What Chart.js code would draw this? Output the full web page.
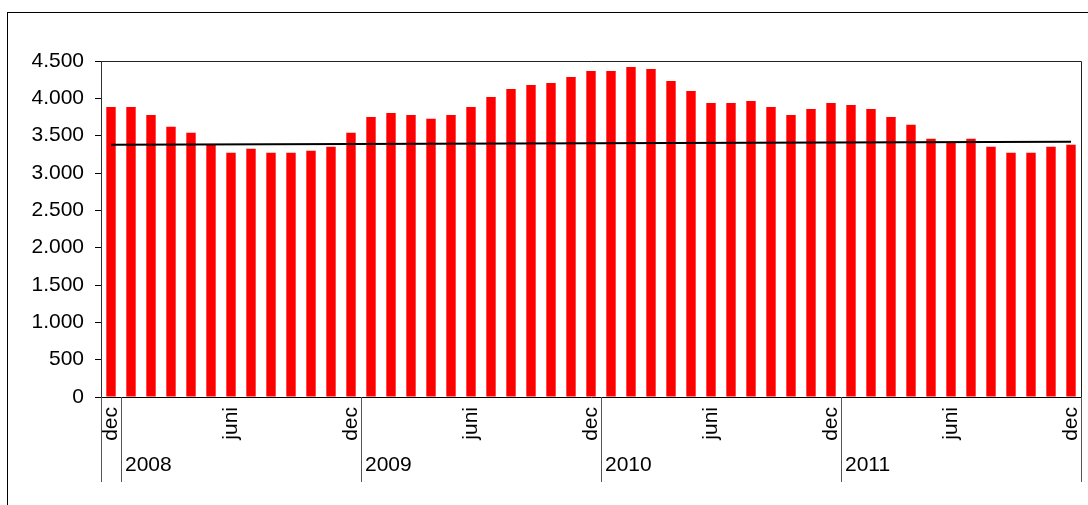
<!DOCTYPE html>
<html>
<head>
<meta charset="utf-8">
<script src="https://cdn.jsdelivr.net/npm/chart.js@4"></script>
<style>
  html, body { margin: 0; padding: 0; background: #fff; }
  #wrap { width: 1088px; height: 505px; }
</style>
</head>
<body>
<div id="wrap"><canvas id="barChart" width="1088" height="505"></canvas></div>
<script>
// months dec 2007 .. dec 2011
const months = [
  'dec',
  'jan', 'feb', 'mrt', 'apr', 'mei', 'juni', 'juli', 'aug', 'sep', 'okt', 'nov', 'dec',
  'jan', 'feb', 'mrt', 'apr', 'mei', 'juni', 'juli', 'aug', 'sep', 'okt', 'nov', 'dec',
  'jan', 'feb', 'mrt', 'apr', 'mei', 'juni', 'juli', 'aug', 'sep', 'okt', 'nov', 'dec',
  'jan', 'feb', 'mrt', 'apr', 'mei', 'juni', 'juli', 'aug', 'sep', 'okt', 'nov', 'dec'
];
const shownMonths = ['dec', 'juni'];
const years = ['2008', '2009', '2010', '2011'];
const yearStart = [1, 13, 25, 37];

const values = [
  3885,
  3885, 3778, 3618, 3538, 3387, 3271, 3324, 3271, 3271, 3298, 3351, 3538,
  3751, 3805, 3778, 3725, 3778, 3885, 4019, 4125, 4179, 4205, 4285, 4366,
  4366, 4419, 4392, 4232, 4099, 3939, 3939, 3965, 3885, 3778, 3858, 3939,
  3912, 3858, 3751, 3645, 3458, 3405, 3458, 3351, 3271, 3271, 3351, 3378
];
// trend line end points (first and last month)
const trendEnds = [3380, 3418];
const trend = months.map((m, i) => i === 0 ? trendEnds[0] : (i === months.length - 1 ? trendEnds[1] : null));

const font = { family: "'Liberation Sans', Arial, sans-serif", size: 21 };

const fmt = v => String(v).replace(/\B(?=(\d{3})+(?!\d))/g, '.');

const framePlugin = {
  id: 'frame',
  afterDraw(chart) {
    const ctx = chart.ctx;
    const a = chart.chartArea;
    const x = chart.scales.x;
    ctx.save();
    // outer frame
    ctx.strokeStyle = '#000';
    ctx.lineWidth = 1;
    ctx.strokeRect(7.5, 12.5, 1100, 520);
    // plot box
    ctx.strokeStyle = '#222';
    ctx.beginPath();
    ctx.moveTo(a.left, a.top + 0.5);
    ctx.lineTo(a.right + 0.5, a.top + 0.5);
    ctx.lineTo(a.right + 0.5, a.bottom);
    ctx.stroke();
    // year separators and labels
    const half = (x.getPixelForValue(1) - x.getPixelForValue(0)) / 2;
    const bounds = [0].concat(yearStart, [months.length]);
    ctx.strokeStyle = '#555';
    bounds.forEach(i => {
      const px = Math.round(x.getPixelForValue(i) - half) + 0.5;
      ctx.beginPath();
      ctx.moveTo(px, a.bottom);
      ctx.lineTo(px, a.bottom + 85);
      ctx.stroke();
    });
    ctx.fillStyle = '#000';
    ctx.font = font.size + 'px ' + font.family;
    ctx.textBaseline = 'middle';
    ctx.textAlign = 'left';
    years.forEach((y, k) => {
      const px = x.getPixelForValue(yearStart[k]) - half;
      ctx.fillText(y, px + 4, a.bottom + 68);
    });
    ctx.restore();
  }
};

new Chart(document.getElementById('barChart'), {
  type: 'bar',
  data: {
    labels: months,
    datasets: [
      {
        type: 'line',
        data: trend,
        spanGaps: true,
        borderColor: '#000',
        borderWidth: 2,
        pointRadius: 0,
        order: 0
      },
      {
        data: values,
        backgroundColor: '#ff0000',
        barPercentage: 0.47,
        categoryPercentage: 1,
        order: 1
      }
    ]
  },
  options: {
    responsive: false,
    animation: false,
    layout: { padding: { left: 0, right: 7, top: 61, bottom: 0 } },
    plugins: { legend: { display: false }, tooltip: { enabled: false } },
    scales: {
      x: {
        grid: { display: false, drawTicks: false },
        border: { color: '#000', width: 1 },
        ticks: {
          autoSkip: false,
          minRotation: 90,
          maxRotation: 90,
          padding: 10,
          color: '#000',
          font: font,
          callback: function (v, i) {
            const m = months[i];
            return shownMonths.includes(m) ? m : '';
          }
        },
        afterFit: s => { s.height = 108; s.paddingLeft = 0; s.paddingRight = 0; }
      },
      y: {
        min: 0,
        max: 4500,
        grid: { drawOnChartArea: false, drawTicks: true, tickLength: 6, color: '#000' },
        border: { color: '#333', width: 1 },
        ticks: {
          stepSize: 500,
          padding: 11,
          color: '#000',
          font: font,
          callback: v => fmt(v)
        },
        afterFit: s => { s.width = 101; s.paddingTop = 0; s.paddingBottom = 0; }
      }
    }
  },
  plugins: [framePlugin]
});
</script>
</body>
</html>
